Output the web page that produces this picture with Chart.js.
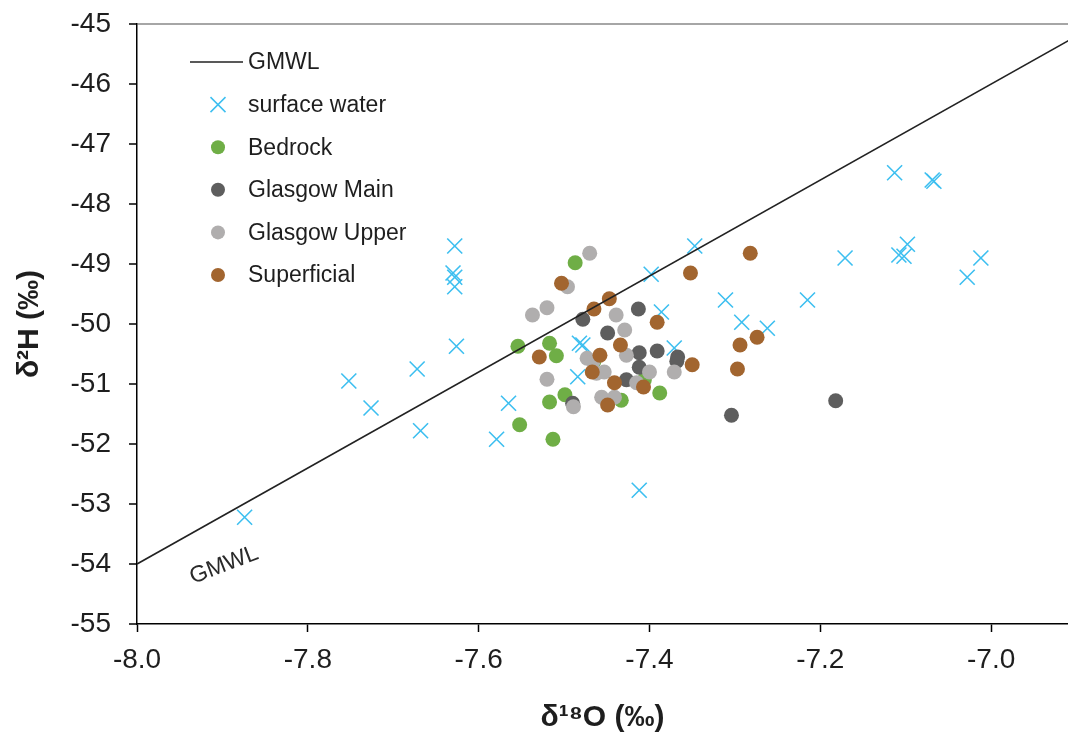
<!DOCTYPE html>
<html>
<head>
<meta charset="utf-8">
<script src="https://cdn.jsdelivr.net/npm/chart.js@4.4.1/dist/chart.umd.min.js"></script>
<style>
html,body{margin:0;padding:0;background:#fff;}
#wrap{width:1068px;height:743px;position:relative;}
</style>
</head>
<body>
<div id="wrap"><canvas id="c" width="1068" height="743"></canvas></div>
<script>
// ---- data ----
const gmwlX = [-8.0, -6.9];
const gmwlY = [-54.0, -45.2];

const surfaceX = [-7.628,-7.630,-7.628,-7.628,-7.626,-7.752,-7.672,-7.726,-7.668,-7.565,-7.579,-7.482,-7.478,-7.484,-7.874,-7.347,-7.398,-7.386,-7.371,-7.311,-7.292,-7.262,-7.215,-7.412,-7.113,-7.069,-7.067,-7.171,-7.098,-7.108,-7.102,-7.012,-7.028];
const surfaceY = [-48.70,-49.15,-49.22,-49.38,-50.37,-50.95,-50.75,-51.40,-51.78,-51.32,-51.92,-50.32,-50.35,-50.88,-53.22,-48.70,-49.17,-49.80,-50.40,-49.60,-49.97,-50.07,-49.60,-52.77,-47.48,-47.60,-47.62,-48.90,-48.67,-48.85,-48.87,-48.90,-49.22];

const bedrockX = [-7.487,-7.554,-7.517,-7.509,-7.517,-7.499,-7.552,-7.513,-7.388,-7.433,-7.406,-7.465];
const bedrockY = [-48.98,-50.37,-50.32,-50.53,-51.30,-51.18,-51.68,-51.92,-51.15,-51.27,-50.93,-50.62];

const mainX = [-7.478,-7.449,-7.490,-7.413,-7.412,-7.391,-7.367,-7.412,-7.427,-7.304,-7.182,-7.368];
const mainY = [-49.92,-50.15,-51.32,-49.75,-50.48,-50.45,-50.55,-50.72,-50.93,-51.52,-51.28,-50.62];

const upperX = [-7.470,-7.496,-7.537,-7.520,-7.520,-7.473,-7.462,-7.489,-7.456,-7.439,-7.429,-7.427,-7.453,-7.400,-7.371,-7.415,-7.441,-7.466];
const upperY = [-48.82,-49.38,-49.85,-49.73,-50.92,-50.57,-50.82,-51.38,-51.22,-49.85,-50.10,-50.52,-50.80,-50.80,-50.80,-50.98,-51.22,-50.62];

const superX = [-7.503,-7.447,-7.465,-7.529,-7.458,-7.467,-7.441,-7.449,-7.434,-7.352,-7.391,-7.350,-7.407,-7.282,-7.274,-7.294,-7.297];
const superY = [-49.32,-49.58,-49.75,-50.55,-50.52,-50.80,-50.98,-51.35,-50.35,-49.15,-49.97,-50.68,-51.05,-48.82,-50.22,-50.35,-50.75];

const xTicks = [-8.0,-7.8,-7.6,-7.4,-7.2,-7.0];
const yTicks = [-55,-54,-53,-52,-51,-50,-49,-48,-47,-46,-45];

const pts = (xs, ys) => xs.map((x, i) => ({x: x, y: ys[i]}));

const FONT = "'Liberation Sans', Arial, sans-serif";

const legendPlugin = {
  id: 'insideLegend',
  afterDatasetsDraw(chart) {
    const ctx = chart.ctx;
    ctx.save();
    // GMWL rotated label
    const xs = chart.scales.x, ys = chart.scales.y;
    const lx = xs.getPixelForValue(-7.898), ly = ys.getPixelForValue(-54.02);
    ctx.translate(lx, ly);
    ctx.rotate(-21 * Math.PI / 180);
    ctx.fillStyle = '#2a2a2a';
    ctx.font = "23px " + FONT;
    ctx.textAlign = 'center';
    ctx.textBaseline = 'middle';
    ctx.fillText('GMWL', 0, 0);
    ctx.restore();

    // legend
    ctx.save();
    const x0 = 190, x1 = 243, mx = 218, tx = 248;
    let y = 62;
    const step = 42.6;
    ctx.font = "23px " + FONT;
    ctx.textBaseline = 'middle';
    ctx.textAlign = 'left';
    chart.data.datasets.forEach((ds) => {
      if (ds.type === 'line') {
        ctx.strokeStyle = ds.borderColor;
        ctx.lineWidth = 1.5;
        ctx.beginPath(); ctx.moveTo(x0, y); ctx.lineTo(x1, y); ctx.stroke();
      } else if (ds.pointStyle === 'crossRot') {
        ctx.strokeStyle = ds.borderColor;
        ctx.lineWidth = 1.5;
        const h = 7.5;
        ctx.beginPath();
        ctx.moveTo(mx - h, y - h); ctx.lineTo(mx + h, y + h);
        ctx.moveTo(mx + h, y - h); ctx.lineTo(mx - h, y + h);
        ctx.stroke();
      } else {
        ctx.fillStyle = ds.backgroundColor;
        ctx.beginPath(); ctx.arc(mx, y, 7, 0, Math.PI * 2); ctx.fill();
      }
      ctx.fillStyle = '#1e1e1e';
      ctx.fillText(ds.label, tx, y + 1);
      y += step;
    });
    ctx.restore();
  }
};

const chart = new Chart(document.getElementById('c'), {
  type: 'scatter',
  data: {
    datasets: [
      {type: 'line', label: 'GMWL', data: pts(gmwlX, gmwlY), borderColor: '#222', borderWidth: 1.6, pointRadius: 0, fill: false, order: 0},
      {label: 'surface water', data: pts(surfaceX, surfaceY), pointStyle: 'crossRot', pointRadius: 10.6, borderColor: '#3dbff0', backgroundColor: '#3dbff0', pointBorderWidth: 1.6, order: 5},
      {label: 'Bedrock', data: pts(bedrockX, bedrockY), pointRadius: 7.5, backgroundColor: '#6fae46', borderColor: '#6fae46', pointBorderWidth: 0, order: 4},
      {label: 'Glasgow Main', data: pts(mainX, mainY), pointRadius: 7.5, backgroundColor: '#5e5e5e', borderColor: '#5e5e5e', pointBorderWidth: 0, order: 3},
      {label: 'Glasgow Upper', data: pts(upperX, upperY), pointRadius: 7.5, backgroundColor: '#b0aeae', borderColor: '#b0aeae', pointBorderWidth: 0, order: 2},
      {label: 'Superficial', data: pts(superX, superY), pointRadius: 7.5, backgroundColor: '#a2652f', borderColor: '#a2652f', pointBorderWidth: 0, order: 1}
    ]
  },
  options: {
    responsive: false,
    animation: false,
    devicePixelRatio: 1,
    layout: {autoPadding: false, padding: {top: 24, right: 0, left: 0, bottom: 0}},
    plugins: {legend: {display: false}, tooltip: {enabled: false}},
    scales: {
      x: {
        type: 'linear', min: -8.0, max: -6.91,
        afterBuildTicks: (s) => { s.ticks = xTicks.map(v => ({value: v})); },
        afterFit: (s) => { s.height = 119; s.paddingRight = 0; s.paddingLeft = 0; },
        grid: {drawOnChartArea: false, drawTicks: true, tickLength: 8, tickColor: '#000', tickWidth: 1.5},
        border: {display: true, color: '#000', width: 1.5},
        ticks: {color: '#1e1e1e', padding: 11, font: {family: FONT, size: 28}, callback: (v) => Number(v).toFixed(1), maxRotation: 0, autoSkip: false},
        title: {display: true, text: 'δ¹⁸O (‰)', color: '#1e1e1e', font: {family: FONT, size: 30, weight: 'bold'}, padding: {top: 0, bottom: 7}}
      },
      y: {
        type: 'linear', min: -55, max: -45,
        afterBuildTicks: (s) => { s.ticks = yTicks.map(v => ({value: v})); },
        afterFit: (s) => { s.width = 137; s.paddingTop = 0; s.paddingBottom = 0; },
        grid: {drawOnChartArea: true, drawTicks: true, tickLength: 8, tickWidth: 1.5,
               tickColor: '#000',
               color: (c) => (c.tick && c.tick.value === -45) ? '#a6a6a6' : 'rgba(0,0,0,0)',
               lineWidth: 2},
        border: {display: true, color: '#000', width: 1.5},
        ticks: {color: '#1e1e1e', padding: 18, font: {family: FONT, size: 28}, callback: (v) => String(v), autoSkip: false},
        title: {display: true, text: 'δ²H (‰)', color: '#1e1e1e', font: {family: FONT, size: 30, weight: 'bold'}, padding: {top: 12, bottom: 0}}
      }
    }
  },
  plugins: [legendPlugin]
});
</script>
</body>
</html>
